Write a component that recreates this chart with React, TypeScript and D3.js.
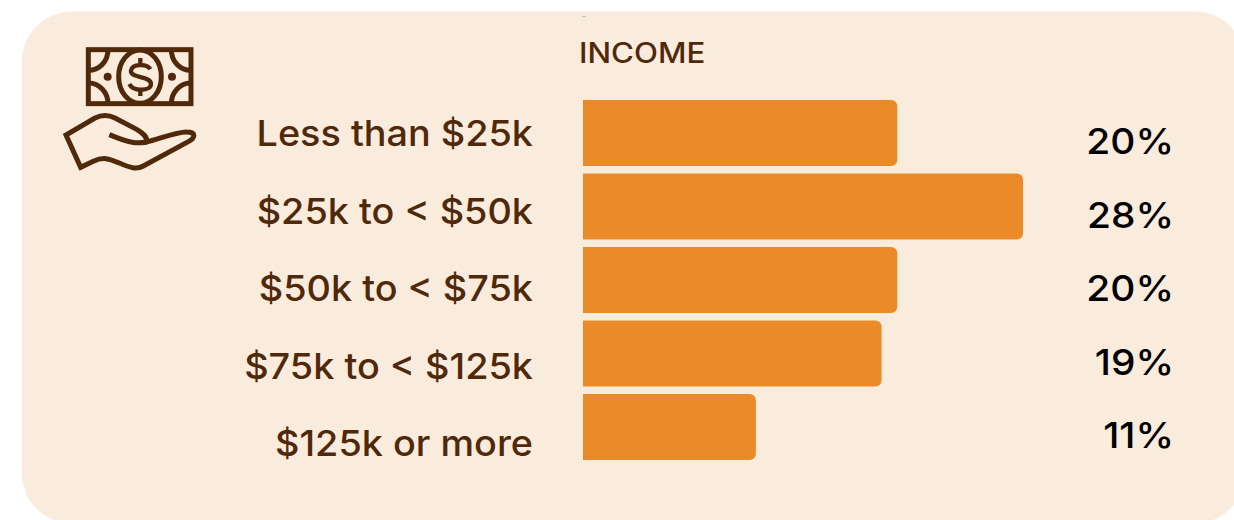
import * as d3 from 'd3'

const categories = ['Less than $25k', '$25k to < $50k', '$50k to < $75k', '$75k to < $125k', '$125k or more']
const values = [20, 28, 20, 19, 11]
const valueLabels = ['20%', '28%', '20%', '19%', '11%']

const width = 1234
const height = 520
const brown = '#50290b'
const orange = '#ea8a28'
const font = 'Inter, "Noto Sans", sans-serif'

// Bars are square on the axis side, rounded on the far side
const barPath = (x0: number, x1: number, y: number, h: number, r = 6) => {
  const p = d3.path()
  p.moveTo(x0, y)
  p.lineTo(x1 - r, y)
  p.arcTo(x1, y, x1, y + r, r)
  p.lineTo(x1, y + h - r)
  p.arcTo(x1, y + h, x1 - r, y + h, r)
  p.lineTo(x0, y + h)
  p.closePath()
  return p.toString()
}

const MoneyIcon = () => (
  <g transform="translate(40,30) scale(0.3333)" fill="none" stroke={brown} strokeWidth={15}>
    <rect x={145} y={59} width={308} height={162} />
    <ellipse cx={300} cy={140} rx={64} ry={80} />
    <path d="M204,59 A58,62 0 0 1 145,121" />
    <path d="M394,59 A58,62 0 0 0 453,121" />
    <path d="M204,221 A58,62 0 0 0 145,159" />
    <path d="M394,221 A58,62 0 0 1 453,159" />
    <circle cx={203} cy={140} r={12} fill={brown} stroke="none" />
    <circle cx={396} cy={140} r={12} fill={brown} stroke="none" />
    <path d="M331,118 C322,101 276,100 273,122 C270,146 333,136 333,162 C333,184 280,186 268,162" strokeWidth={13} />
    <path d="M301,84 V104 M301,178 V198" strokeWidth={13} />
    {/* outer hand */}
    <path d="M78,315 L122,412 L160,394 C190,380 205,385 240,400 C270,413 290,420 310,408 L445,335 C468,322 468,306 440,306 C410,305 350,330 320,336 C322,320 310,310 290,298 L225,264 C205,254 185,254 165,264 Z" />
    {/* thumb fold */}
    <path d="M208,314 C270,340 290,342 320,336" />
  </g>
)

export default function App() {
  const x = d3.scaleLinear().domain([0, 28]).range([583, 1023])
  const y = d3.scaleBand().domain(categories).range([100, 460]).paddingInner(7.5 / 73.5).paddingOuter(0)
  const labelY = d3.scalePoint().domain(categories).range([146, 456])

  return (
    <svg width={width} height={height} style={{ position: 'absolute', left: 0, top: 0 }}>
      <rect x={22} y={11.5} width={1223} height={512} rx={50} ry={50} fill="#faecdd" />
      <MoneyIcon />
      <rect x={582} y={16} width={4} height={1} fill="#bbb" />
      <text transform="translate(579,63) scale(1.115,1)" fontFamily={font} fontSize={28} fontWeight={500} fill={brown}>INCOME</text>
      {categories.map((c, i) => (
        <g key={c}>
          <path d={barPath(x(0), x(values[i]), y(c)!, y.bandwidth())} fill={orange} />
          <text transform={`translate(533,${labelY(c)}) scale(1.05,1)`} textAnchor="end" fontFamily={font} fontSize={36} fontWeight={500} fill={brown}>{c}</text>
          <text transform={`translate(1174,${y(c)! + y.bandwidth() / 2 + 21}) scale(1.08,1)`} textAnchor="end" fontFamily={font} fontSize={36} fontWeight={500} fill="#000">{valueLabels[i]}</text>
        </g>
      ))}
    </svg>
  )
}
